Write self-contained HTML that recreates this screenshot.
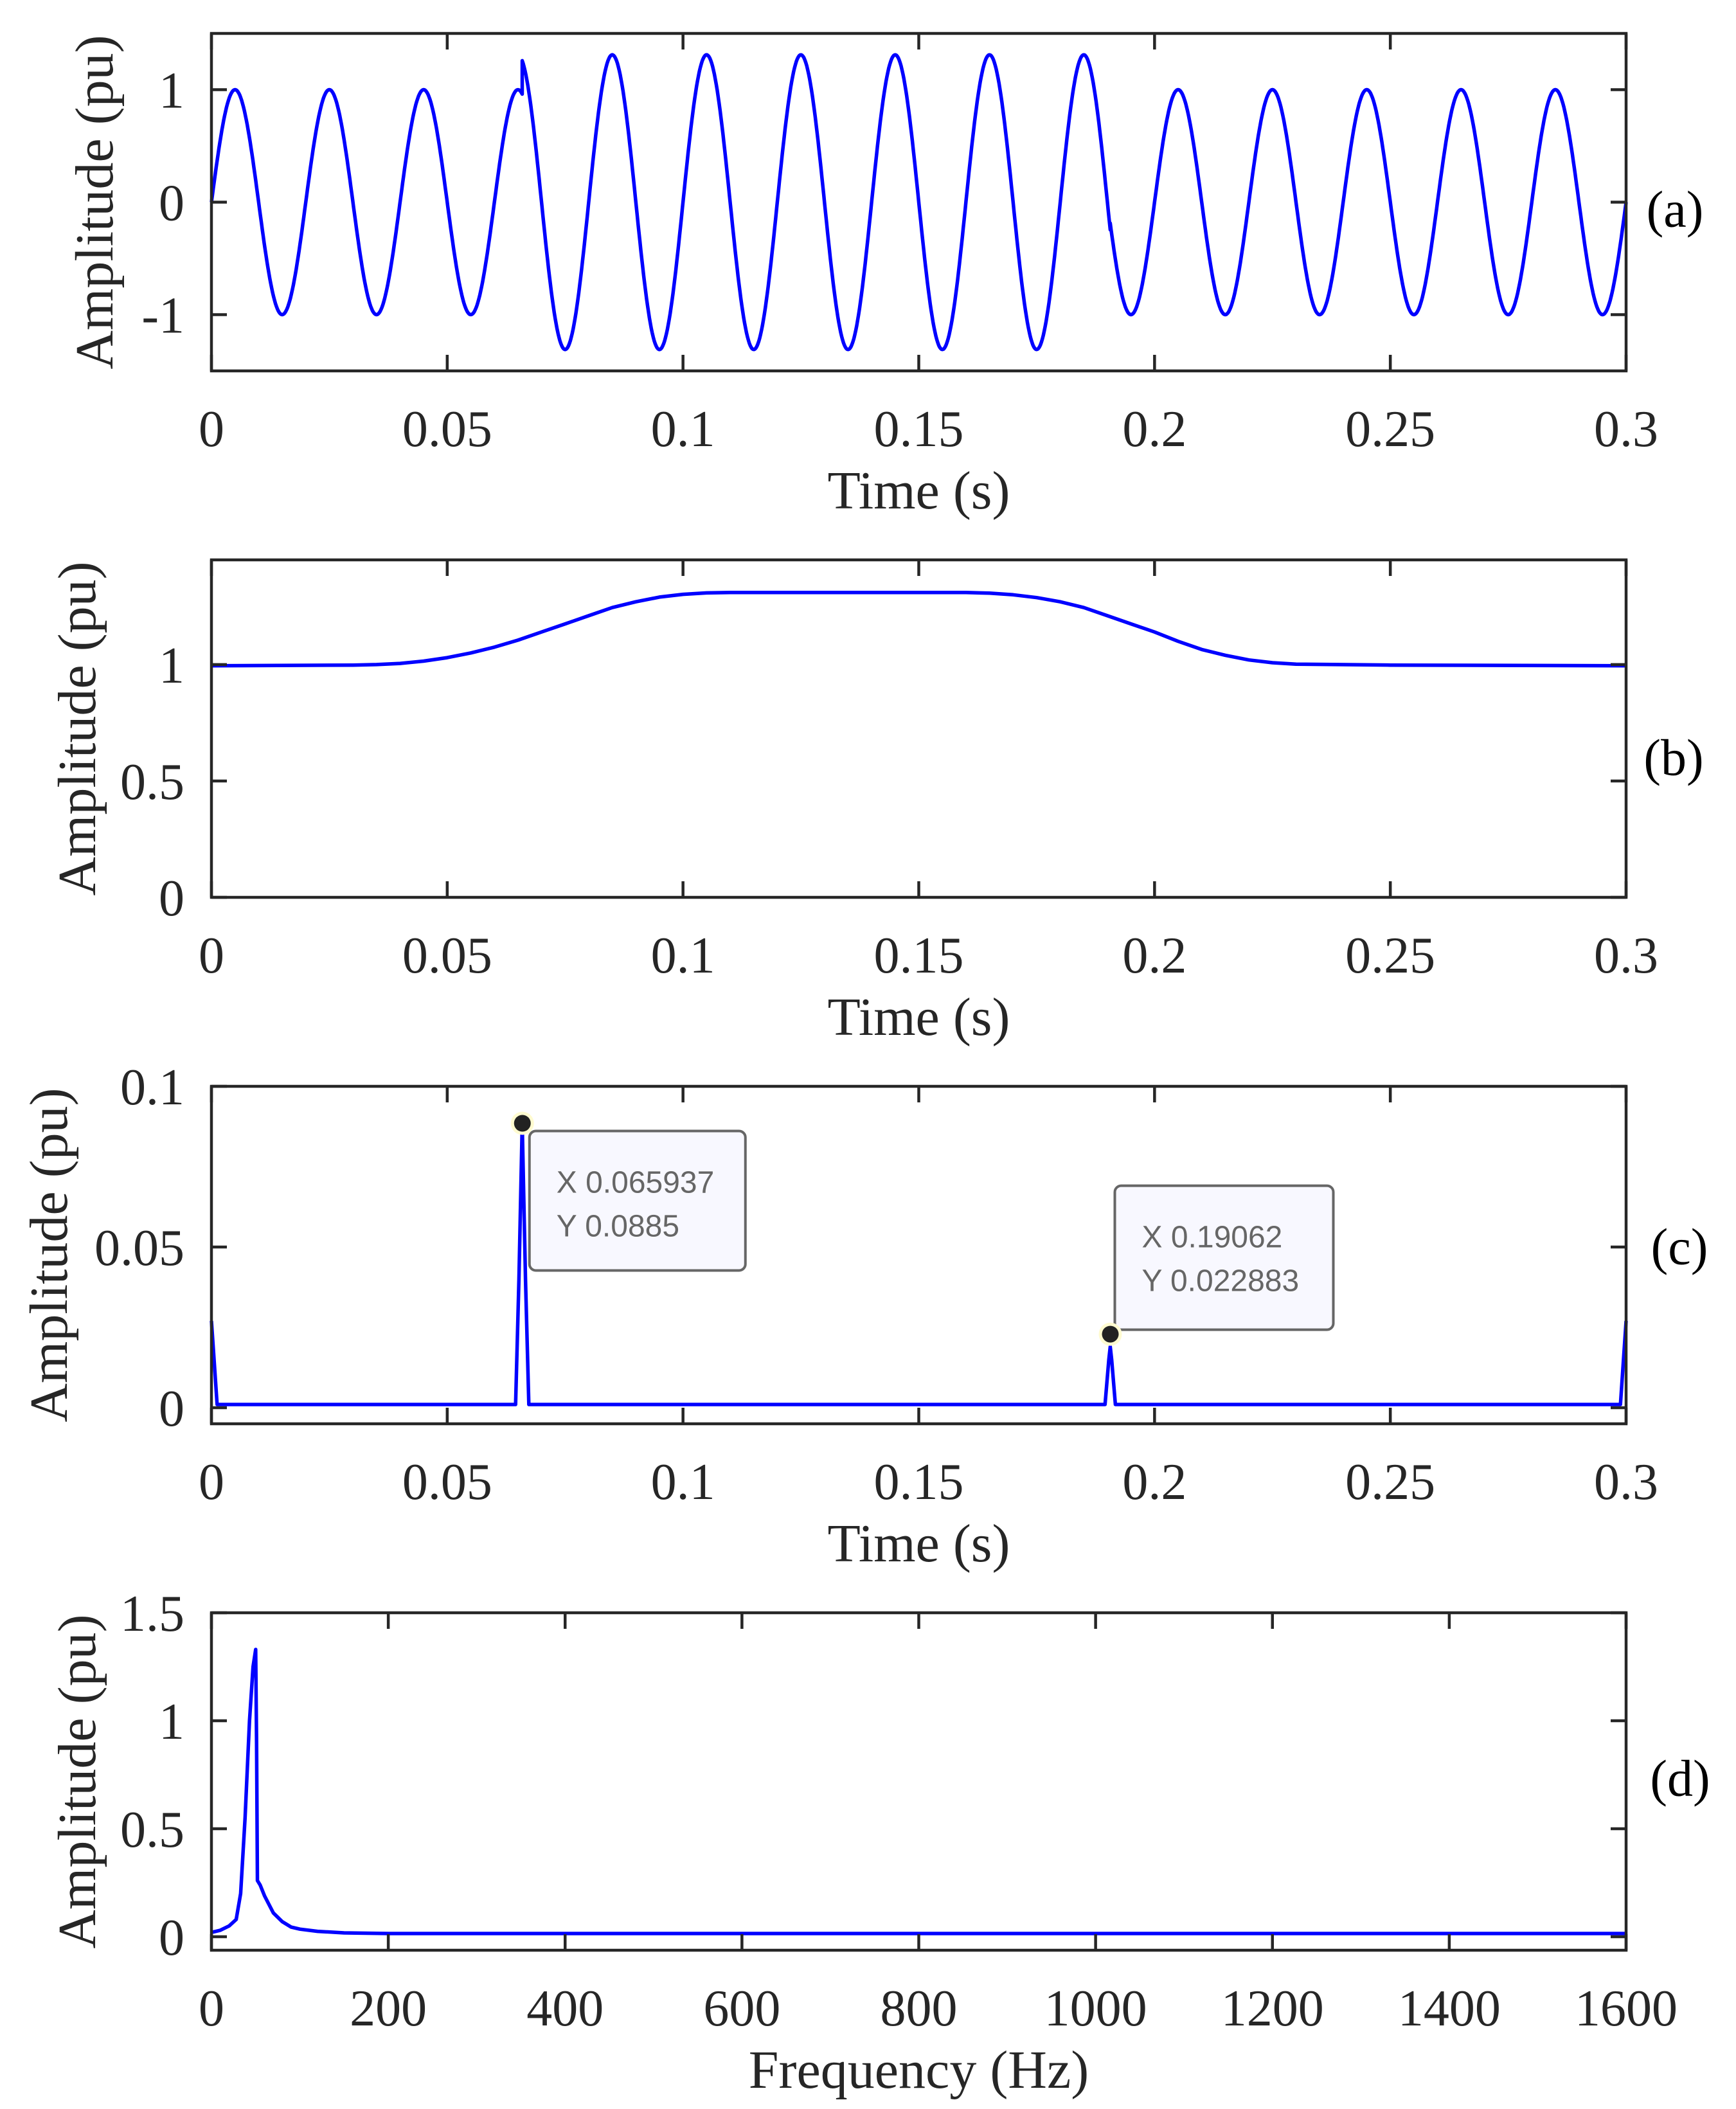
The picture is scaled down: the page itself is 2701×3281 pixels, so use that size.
<!DOCTYPE html>
<html><head><meta charset="utf-8"><style>
html,body{margin:0;padding:0;background:#fff;}
svg{display:block;}
</style></head><body>
<svg id="fig" width="2701" height="3281" viewBox="0 0 2701 3281" xmlns="http://www.w3.org/2000/svg"></svg>
<script>
// ---------- data ----------
// (a) waveform: amplitude segments
const aSegTimes = [0, 0.0659, 0.1906, 0.3];
const aSegAmps = [1.0, 1.31, 1.0];
const aFreq = 50;
// (b) envelope
const bTimes = [0,0.03,0.035,0.04,0.045,0.05,0.055,0.06,0.065,0.07,0.075,0.08,0.085,0.09,0.095,0.1,0.105,0.11,0.16,0.165,0.17,0.175,0.18,0.185,0.19,0.195,0.2,0.205,0.21,0.215,0.22,0.225,0.23,0.25,0.3];
const bVals  = [0.995,0.998,1.0,1.005,1.015,1.03,1.05,1.075,1.105,1.14,1.175,1.21,1.245,1.27,1.29,1.302,1.308,1.31,1.31,1.307,1.30,1.288,1.27,1.245,1.21,1.175,1.14,1.1,1.065,1.04,1.02,1.008,1.002,0.998,0.995];
// (c) detection
const cTimes = [0,0.0012,0.0645,0.0652,0.0659,0.0666,0.0673,0.1895,0.1903,0.1906,0.1909,0.1917,0.2988,0.3];
const cVals  = [0.027,0.001,0.001,0.04,0.0885,0.04,0.001,0.001,0.015,0.019,0.015,0.001,0.001,0.027];
const tips = [{x:0.065937,y:0.0885,lx:"X 0.065937",ly:"Y 0.0885"},{x:0.19062,y:0.022883,lx:"X 0.19062",ly:"Y 0.022883"}];
// (d) spectrum
const dFreqs = [0,10,20,28,33,38,43,47,50,51,52,55,60,70,80,90,100,120,150,200,1600];
const dVals  = [0.02,0.03,0.05,0.08,0.2,0.55,1.0,1.25,1.33,0.9,0.26,0.24,0.19,0.11,0.07,0.045,0.035,0.025,0.018,0.015,0.015];
const timeTicks = [0,0.05,0.1,0.15,0.2,0.25,0.3];
const timeTickLabels = ["0","0.05","0.1","0.15","0.2","0.25","0.3"];
const freqTicks = [0,200,400,600,800,1000,1200,1400,1600];
const freqTickLabels = ["0","200","400","600","800","1000","1200","1400","1600"];

const NS="http://www.w3.org/2000/svg";
const svg=document.getElementById('fig');
function mk(tag,attrs,parent){const e=document.createElementNS(NS,tag);for(const k in attrs)e.setAttribute(k,attrs[k]);(parent||svg).appendChild(e);return e;}
const L=329,R=2530,H=525;
function panel(cfg){
  const g=mk('g',{});
  
  
  const top=cfg.top,bot=top+H;
  const sx=v=>L+(v-cfg.x0)/(cfg.x1-cfg.x0)*(R-L);
  const sy=v=>bot-(v-cfg.y0)/(cfg.y1-cfg.y0)*H;
  let d='';cfg.pts.forEach((p,i)=>{d+=(i?'L':'M')+sx(p[0]).toFixed(1)+' '+sy(p[1]).toFixed(1);});
  const ln=mk('path',{d:d,fill:'none',stroke:'#0000ff','stroke-width':5.5,'stroke-linejoin':'round'},g);
  
  
  const bx=mk('rect',{x:L,y:top,width:R-L,height:H,fill:'none',stroke:'#262626','stroke-width':4.5},g);
  
  
  cfg.xt.forEach((t,i)=>{
    const x=sx(t);
    mk('line',{x1:x,y1:bot,x2:x,y2:bot-25,stroke:'#262626','stroke-width':4.5},g);
    mk('line',{x1:x,y1:top,x2:x,y2:top+25,stroke:'#262626','stroke-width':4.5},g);
    const tx=mk('text',{x:x,y:bot+117,'text-anchor':'middle','font-family':'Liberation Serif, serif','font-size':80,fill:'#262626'},g);
    tx.textContent=cfg.xl[i];
    
    
  });
  cfg.yt.forEach((t,i)=>{
    const y=sy(t);
    mk('line',{x1:L,y1:y,x2:L+24,y2:y,stroke:'#262626','stroke-width':4.5},g);
    mk('line',{x1:R,y1:y,x2:R-24,y2:y,stroke:'#262626','stroke-width':4.5},g);
    const tx=mk('text',{x:287,y:y+28,'text-anchor':'end','font-family':'Liberation Serif, serif','font-size':80,fill:'#262626'},g);
    tx.textContent=cfg.yl[i];
    
    
  });
  const yl=mk('text',{x:0,y:0,transform:`translate(${cfg.ylx+28},${top+H/2}) rotate(-90)`,'text-anchor':'middle','font-family':'Liberation Serif, serif','font-size':84,fill:'#262626'},g);
  yl.textContent='Amplitude (pu)';
  
  
  const xl=mk('text',{x:(L+R)/2,y:bot+214,'text-anchor':'middle','font-family':'Liberation Serif, serif','font-size':84,fill:'#262626'},g);
  xl.textContent=cfg.xlab;
  
  
  const pl=mk('text',{x:cfg.plx,y:top+H/2+cfg.ply,'text-anchor':'middle','font-family':'Liberation Serif, serif','font-size':80,fill:'#000'},g);
  pl.textContent=cfg.label;
  
  
  return {g,sx,sy};
}
const aPts=[];
for(let s=0;s<aSegAmps.length;s++){
  const t0=aSegTimes[s],t1=aSegTimes[s+1];const n=Math.ceil((t1-t0)/0.0002);
  for(let i=0;i<=n;i++){const t=t0+(t1-t0)*i/n;aPts.push([t,aSegAmps[s]*Math.sin(2*Math.PI*aFreq*t)]);}
}
panel({name:'panel-a',top:52,x0:0,x1:0.3,y0:-1.5,y1:1.5,pts:aPts,xt:timeTicks,xl:timeTickLabels,yt:[-1,0,1],yl:["-1","0","1"],ylx:147,xlab:'Time (s)',label:'(a)',plx:2606,ply:38});
panel({name:'panel-b',top:871,x0:0,x1:0.3,y0:0,y1:1.45,pts:bTimes.map((t,i)=>[t,bVals[i]]),xt:timeTicks,xl:timeTickLabels,yt:[0,0.5,1],yl:["0","0.5","1"],ylx:120,xlab:'Time (s)',label:'(b)',plx:2604,ply:72});
const pc=panel({name:'panel-c',top:1690,x0:0,x1:0.3,y0:-0.005,y1:0.1,pts:cTimes.map((t,i)=>[t,cVals[i]]),xt:timeTicks,xl:timeTickLabels,yt:[0,0.05,0.1],yl:["0","0.05","0.1"],ylx:76,xlab:'Time (s)',label:'(c)',plx:2613,ply:14});
panel({name:'panel-d',top:2509,x0:0,x1:1600,y0:-0.0625,y1:1.5,pts:dFreqs.map((f,i)=>[f,dVals[i]]),xt:freqTicks,xl:freqTickLabels,yt:[0,0.5,1,1.5],yl:["0","0.5","1","1.5"],ylx:120,xlab:'Frequency (Hz)',label:'(d)',plx:2614,ply:22});
const boxOff=[{dx:11,dy:12,w:336,h:217},{dx:7,dy:-231,w:340,h:224}];
tips.forEach((tp,i)=>{
  const x=pc.sx(tp.x),y=pc.sy(tp.y);const o=boxOff[i];
  const g=mk('g',{});
  
  
  const bx=x+o.dx,by=y+o.dy;
  mk('rect',{x:bx,y:by,width:o.w,height:o.h,rx:10,fill:'#f8f8ff',stroke:'#666','stroke-width':4},g);
  const t1=mk('text',{x:bx+42,y:by+96,'font-family':'Liberation Sans, sans-serif','font-size':48,fill:'#666'},g);t1.textContent=tp.lx;
  const t2=mk('text',{x:bx+42,y:by+164,'font-family':'Liberation Sans, sans-serif','font-size':48,fill:'#666'},g);t2.textContent=tp.ly;
  mk('circle',{cx:x,cy:y,r:18,fill:'#fffbd0'},g);
  const m=mk('circle',{cx:x,cy:y,r:13,fill:'#222'},g);
  
  
});
</script>
</body></html>
